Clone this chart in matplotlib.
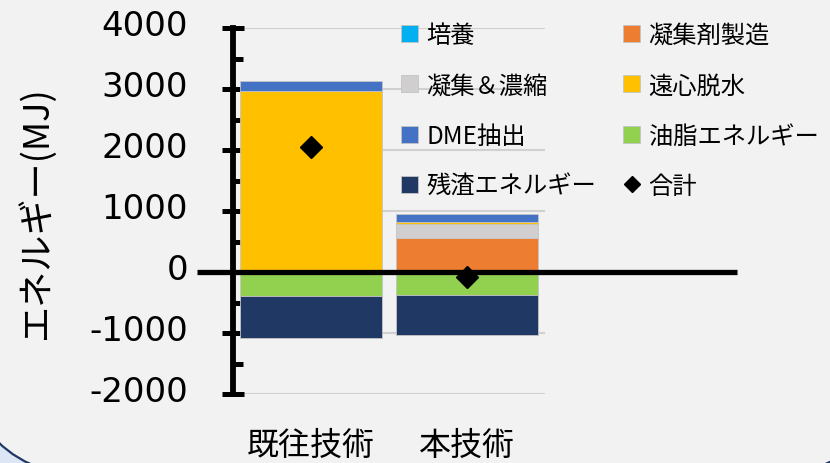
import numpy as np
import matplotlib
matplotlib.use("Agg")
import matplotlib.pyplot as plt
import matplotlib.transforms as mtransforms
from matplotlib.patches import FancyBboxPatch
from matplotlib.lines import Line2D

plt.rcParams['font.family'] = ['Noto Sans CJK JP', 'DejaVu Sans']
plt.rcParams['axes.unicode_minus'] = False

# data (MJ)
categories = ["既往技術", "本技術"]
culture = [0, 0]
flocculant_making = [0, 550]
floc_concentration = [0, 245]
centrifuge = [2970, 17]
dme_extraction = [165, 135]
oil_energy = [-397, -375]
residue_energy = [-685, -653]
total = [2045, -85]
y_ticks = [-2000, -1000, 0, 1000, 2000, 3000, 4000]

positive_series = [
    ("培養", culture, "#00b0f0"),
    ("凝集剤製造", flocculant_making, "#ed7d31"),
    ("凝集＆濃縮", floc_concentration, "#d0cece"),
    ("遠心脱水", centrifuge, "#ffc000"),
    ("DME抽出", dme_extraction, "#4472c4"),
]
negative_series = [
    ("油脂エネルギー", oil_energy, "#92d050"),
    ("残渣エネルギー", residue_energy, "#203864"),
]

fig = plt.figure(figsize=(8.3, 4.64), dpi=100)
fig.patch.set_facecolor("#dce6f4")

# rounded panel behind the chart
panel = FancyBboxPatch((-40, -16), 936, 700,
                       boxstyle="round,pad=0,rounding_size=150",
                       transform=mtransforms.IdentityTransform(),
                       facecolor="#f2f2f2", edgecolor="#1f3864",
                       linewidth=1.6, zorder=-10)
fig.add_artist(panel)

ax = fig.add_axes([233 / 830, 1 - 395 / 464, 312 / 830, 366 / 464])
ax.set_facecolor("none")

x = np.arange(len(categories))
width = 0.91
handles = {}

bottom = np.zeros(len(categories))
for name, vals, color in positive_series:
    vals = np.array(vals, dtype=float)
    bars = ax.bar(x, vals, width, bottom=bottom, color=color,
                  edgecolor="#c4c4c4", linewidth=0.6, zorder=2)
    handles[name] = bars
    bottom += vals

bottom = np.zeros(len(categories))
for name, vals, color in negative_series:
    vals = np.array(vals, dtype=float)
    bars = ax.bar(x, vals, width, bottom=bottom, color=color,
                  edgecolor="#c4c4c4", linewidth=0.6, zorder=2)
    handles[name] = bars
    bottom += vals

ax.plot(x, total, linestyle="none", marker="D", color="black",
        markersize=11, zorder=5, clip_on=False)
handles["合計"] = Line2D([], [], linestyle="none", marker="D",
                       color="black", markersize=8.5)

# zero line running past the plot area
ax.plot([-0.731, 2.731], [0, 0], color="black", linewidth=3.8,
        zorder=4, clip_on=False, solid_capstyle="butt")

ax.set_xlim(-0.5, 1.5)
ax.set_ylim(-2000, 4000)
ax.set_yticks(y_ticks, labels=[str(t) for t in y_ticks],
              fontfamily="DejaVu Sans", fontsize=24.5)
ax.set_yticks(np.arange(-1500, 4000, 1000), minor=True)
ax.yaxis.grid(True, color="#d0d0d0", linewidth=1.5)
ax.set_axisbelow(True)

for side in ["top", "right", "bottom"]:
    ax.spines[side].set_visible(False)
ax.spines["left"].set_linewidth(4.2)
ax.spines["left"].set_zorder(6)

ax.tick_params(axis="y", which="major", direction="inout", length=16.5,
               width=3.6, pad=24)
ax.tick_params(axis="y", which="minor", direction="in", length=7.2,
               width=3.6)
offset = mtransforms.ScaledTranslation(0, 6 / 100, fig.dpi_scale_trans)
for lab in ax.get_yticklabels():
    lab.set_transform(lab.get_transform() + offset)

ax.set_xticks(x)
ax.set_xticklabels(categories)
ax.tick_params(axis="x", length=0, pad=25, labelsize=23)

ax.set_ylabel("エネルギー(MJ)", fontsize=26)
ax.yaxis.set_label_coords(-0.572, 0.5)

order = ["培養", "凝集＆濃縮", "DME抽出", "残渣エネルギー",
         "凝集剤製造", "遠心脱水", "油脂エネルギー", "合計"]
ax.legend([handles[n] for n in order], order, ncol=2, frameon=False,
          loc="upper left", bbox_to_anchor=(401 / 830, 1 - 23 / 464),
          bbox_transform=fig.transFigure, borderpad=0, borderaxespad=0,
          fontsize=17.5, handlelength=0.7, handleheight=0.7,
          handletextpad=0.35, columnspacing=1.1, labelspacing=1.0)

fig.savefig("out.png", dpi=100, facecolor=fig.get_facecolor())
